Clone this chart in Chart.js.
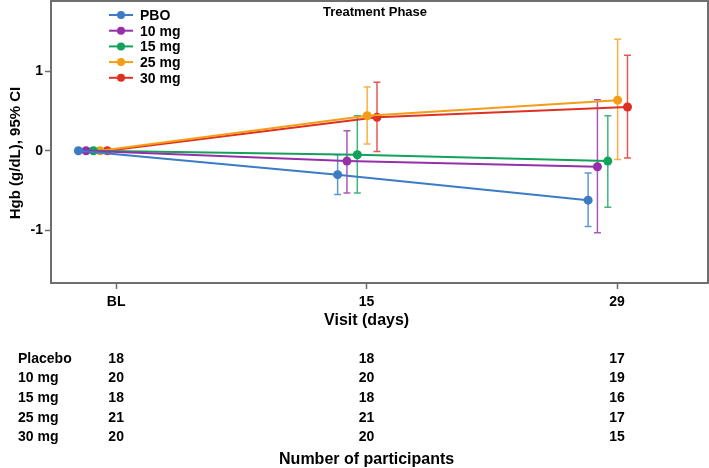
<!DOCTYPE html>
<html>
<head>
<meta charset="utf-8">
<script src="https://cdn.jsdelivr.net/npm/chart.js@4"></script>
<style>
  html, body { margin: 0; padding: 0; background: #fff; }
</style>
</head>
<body>
<canvas id="chart" width="709" height="468"></canvas>
<script>
// visits
const visitLabels = ['BL', '15', '29'];
const visitDays = [1, 15, 29];

// legend / table names
const seriesNames = ['PBO', '10 mg', '15 mg', '25 mg', '30 mg'];
const tableNames = ['Placebo', '10 mg', '15 mg', '25 mg', '30 mg'];

// mean change in Hgb (g/dL)
const pboMean  = [0, -0.30, -0.62];
const mg10Mean = [0, -0.13, -0.20];
const mg15Mean = [0, -0.05, -0.13];
const mg25Mean = [0, 0.44, 0.635];
const mg30Mean = [0, 0.42, 0.55];

// 95% CI (no bar at baseline)
const pboLow   = [null, -0.55, -0.95];
const pboHigh  = [null, -0.05, -0.28];
const mg10Low  = [null, -0.53, -1.03];
const mg10High = [null, 0.25, 0.64];
const mg15Low  = [null, -0.53, -0.71];
const mg15High = [null, 0.44, 0.44];
const mg25Low  = [null, 0.085, -0.11];
const mg25High = [null, 0.80, 1.40];
const mg30Low  = [null, -0.01, -0.09];
const mg30High = [null, 0.86, 1.20];

// number of participants
const nPlacebo = [18, 18, 17];
const n10 = [20, 20, 19];
const n15 = [18, 18, 16];
const n25 = [21, 21, 17];
const n30 = [20, 20, 15];

// styling: colours and horizontal dodge (days) so the bars don't overlap
const colors = ['#3b7cc4', '#9530a8', '#13a15b', '#f59d16', '#de3122'];
const dodgeBL = [-2.11, -1.68, -1.27, -0.90, -0.49];
const dodge = [-1.62, -1.10, -0.52, 0.03, 0.58];

const means = [pboMean, mg10Mean, mg15Mean, mg25Mean, mg30Mean];
const lows = [pboLow, mg10Low, mg15Low, mg25Low, mg30Low];
const highs = [pboHigh, mg10High, mg15High, mg25High, mg30High];
const counts = [nPlacebo, n10, n15, n25, n30];

const FONT = "'Liberation Sans', Arial, Helvetica, sans-serif";
Chart.defaults.font.family = FONT;
Chart.defaults.font.weight = 'bold';
Chart.defaults.color = '#000';

const datasets = seriesNames.map((name, i) => ({
    label: name,
    data: visitDays.map((d, j) => ({
        x: d + (j === 0 ? dodgeBL[i] : dodge[i]),
        y: means[i][j],
        lo: lows[i][j],
        hi: highs[i][j]
    })),
    borderColor: colors[i],
    backgroundColor: colors[i],
    borderWidth: 2,
    pointRadius: 4.5,
    pointBorderWidth: 0,
    tension: 0
}));

const overlay = {
    id: 'overlay',
    beforeDatasetsDraw(chart) {
        const ctx = chart.ctx;
        const xs = chart.scales.x, ys = chart.scales.y;
        chart.data.datasets.forEach(ds => {
            ctx.save();
            ctx.strokeStyle = ds.borderColor;
            ctx.globalAlpha = 0.8;
            ctx.lineWidth = 1.5;
            ds.data.forEach(p => {
                if (p.lo == null) return;
                const x = xs.getPixelForValue(p.x);
                const y1 = ys.getPixelForValue(p.lo);
                const y2 = ys.getPixelForValue(p.hi);
                ctx.beginPath();
                ctx.moveTo(x, y1); ctx.lineTo(x, y2);
                ctx.moveTo(x - 3.5, y1); ctx.lineTo(x + 3.5, y1);
                ctx.moveTo(x - 3.5, y2); ctx.lineTo(x + 3.5, y2);
                ctx.stroke();
            });
            ctx.restore();
        });
    },
    afterDraw(chart) {
        const ctx = chart.ctx;
        const a = chart.chartArea;
        const xs = chart.scales.x;
        ctx.save();

        // frame
        ctx.strokeStyle = '#6e6e6e';
        ctx.lineWidth = 2;
        ctx.strokeRect(a.left, a.top, a.right - a.left, a.bottom - a.top);

        // title inside plot
        ctx.fillStyle = '#000';
        ctx.textAlign = 'center';
        ctx.textBaseline = 'middle';
        ctx.font = 'bold 13px ' + FONT;
        ctx.fillText('Treatment Phase', 375, 12);

        // legend
        ctx.font = 'bold 14px ' + FONT;
        ctx.textAlign = 'left';
        chart.data.datasets.forEach((ds, i) => {
            const y = 15 + i * 15.7;
            ctx.strokeStyle = ds.borderColor;
            ctx.fillStyle = ds.borderColor;
            ctx.lineWidth = 2;
            ctx.beginPath(); ctx.moveTo(109, y); ctx.lineTo(133, y); ctx.stroke();
            ctx.beginPath(); ctx.arc(121, y, 4, 0, Math.PI * 2); ctx.fill();
            ctx.fillStyle = '#000';
            ctx.fillText(ds.label, 140, y + 1);
        });

        // y axis title
        ctx.save();
        ctx.translate(16, 153);
        ctx.rotate(-Math.PI / 2);
        ctx.textAlign = 'center';
        ctx.font = 'bold 15px ' + FONT;
        ctx.fillText('Hgb (g/dL), 95% CI', 0, 0);
        ctx.restore();

        // x axis title
        const midX = xs.getPixelForValue(visitDays[1]);
        ctx.textAlign = 'center';
        ctx.font = 'bold 16px ' + FONT;
        ctx.fillText('Visit (days)', midX, 321);

        // participants table
        ctx.font = 'bold 14px ' + FONT;
        tableNames.forEach((name, k) => {
            const y = 359 + k * 19.6;
            ctx.textAlign = 'left';
            ctx.fillText(name, 18, y);
            ctx.textAlign = 'center';
            counts[k].forEach((n, j) => {
                ctx.fillText(String(n), xs.getPixelForValue(visitDays[j]), y);
            });
        });
        ctx.font = 'bold 16px ' + FONT;
        ctx.fillText('Number of participants', midX, 460);

        ctx.restore();
    }
};

new Chart(document.getElementById('chart'), {
    type: 'line',
    data: { datasets: datasets },
    options: {
        responsive: false,
        animation: false,
        layout: { autoPadding: false, padding: { left: 1, right: 1, top: 1, bottom: 155 } },
        plugins: {
            legend: { display: false },
            tooltip: { enabled: false }
        },
        scales: {
            x: {
                type: 'linear',
                min: -2.64,
                max: 34.08,
                afterBuildTicks: s => { s.ticks = visitDays.map(v => ({ value: v })); },
                afterFit: s => { s.height = 30; s.paddingLeft = 0; s.paddingRight = 0; },
                ticks: {
                    callback: v => visitLabels[visitDays.indexOf(v)],
                    font: { size: 14, weight: 'bold' },
                    color: '#000',
                    padding: 5,
                    maxRotation: 0,
                    autoSkip: false
                },
                grid: { drawOnChartArea: false, tickLength: 6, color: '#6e6e6e', tickWidth: 1.5 },
                border: { display: false }
            },
            y: {
                min: -1.66,
                max: 1.88,
                afterBuildTicks: s => { s.ticks = [-1, 0, 1].map(v => ({ value: v })); },
                afterFit: s => { s.width = 50; s.paddingTop = 0; s.paddingBottom = 0; },
                ticks: {
                    font: { size: 14, weight: 'bold' },
                    color: '#000',
                    padding: 2
                },
                grid: { drawOnChartArea: false, tickLength: 6, color: '#6e6e6e', tickWidth: 1.5 },
                border: { display: false }
            }
        }
    },
    plugins: [overlay]
});
</script>
</body>
</html>
